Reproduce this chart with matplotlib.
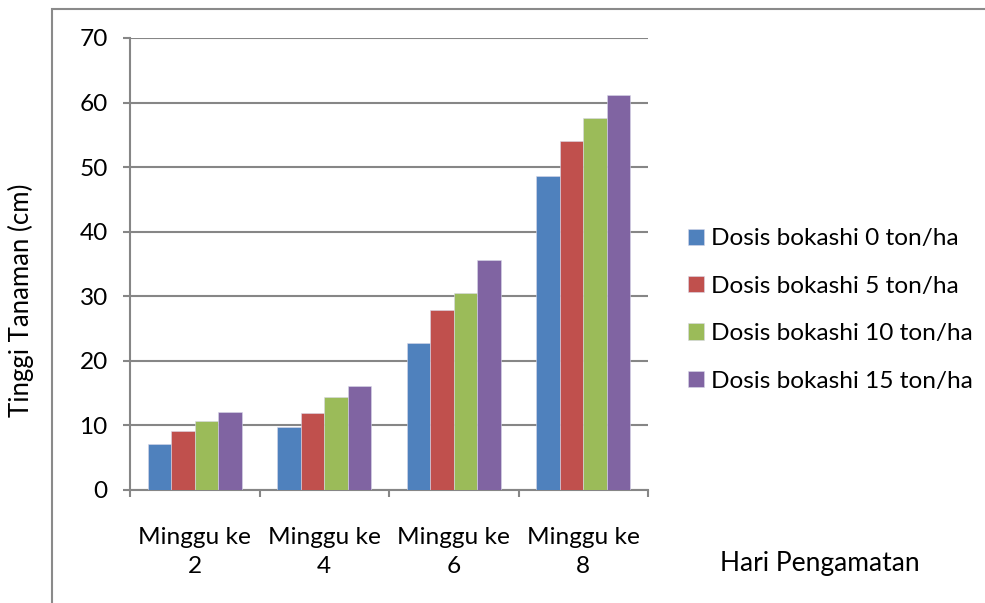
import numpy as np
import matplotlib.pyplot as plt
from matplotlib.patches import Rectangle

plt.rcParams['font.family'] = ['Lato', 'DejaVu Sans']

categories = ['Minggu ke\n2', 'Minggu ke\n4', 'Minggu ke\n6', 'Minggu ke\n8']
series_names = ['Dosis bokashi 0 ton/ha', 'Dosis bokashi 5 ton/ha',
                'Dosis bokashi 10 ton/ha', 'Dosis bokashi 15 ton/ha']
dosis_0 = [7.2, 9.7, 22.8, 48.6]
dosis_5 = [9.2, 12.0, 27.9, 54.1]
dosis_10 = [10.7, 14.4, 30.5, 57.6]
dosis_15 = [12.1, 16.1, 35.6, 61.1]
colors = ['#4F81BD', '#C0504D', '#9BBB59', '#8064A2']

W, H = 985, 603
fs = 17.6
fig = plt.figure(figsize=(W / 100, H / 100), dpi=100)
ax = fig.add_axes([130 / W, 1 - 490 / H, (648 - 130) / W, (490 - 38) / H])

# bingkai grafik
fig.patches.append(Rectangle((52 / W, -0.1), 1.0, 1 - 9 / H + 0.1, transform=fig.transFigure,
                             fill=False, edgecolor='#8a8a8a', linewidth=1.5))

x = np.arange(len(categories))
bw = 1 / 5.5
for i, (vals, c, name) in enumerate(zip([dosis_0, dosis_5, dosis_10, dosis_15], colors, series_names)):
    ax.bar(x + (i - 1.5) * bw, vals, width=bw, color=c, label=name,
           edgecolor='#d8d8e8', linewidth=0.4, zorder=3)

ax.set_xlim(-0.5, 3.5)
ax.set_ylim(0, 70)
ax.set_yticks(range(0, 71, 10))
ax.yaxis.grid(True, color='#868686', linewidth=1.5, zorder=0)
ax.set_xticks([-0.5, 0.5, 1.5, 2.5, 3.5])
ax.set_xticklabels([])
ax.set_xticks(x, minor=True)
ax.set_xticklabels(categories, minor=True, fontsize=fs)
for t in ax.get_xticklabels(minor=True):
    t.set_linespacing(1.45)
ax.tick_params(axis='x', which='minor', length=0, pad=27)
ax.tick_params(axis='x', which='major', length=5, width=1.5, color='#868686')
ax.tick_params(axis='y', length=5, width=1.5, color='#868686', labelsize=fs, pad=11)
for s in ['top', 'right']:
    ax.spines[s].set_visible(False)
for s in ['left', 'bottom']:
    ax.spines[s].set_color('#868686')
    ax.spines[s].set_linewidth(1.5)

fig.text(21 / W, 1 - 300 / H, 'Tinggi Tanaman (cm)', rotation=90, fontsize=18.5,
         ha='center', va='center')
fig.text(820 / W, 1 - 563 / H, 'Hari Pengamatan', fontsize=19, ha='center', va='center')

ax.legend(loc='center left', bbox_to_anchor=(666 / W, 1 - 310 / H), bbox_transform=fig.transFigure,
          frameon=False, fontsize=fs, handlelength=0.65, handleheight=0.65, handletextpad=0.28,
          labelspacing=1.08)

fig.savefig('out.png', dpi=100)
